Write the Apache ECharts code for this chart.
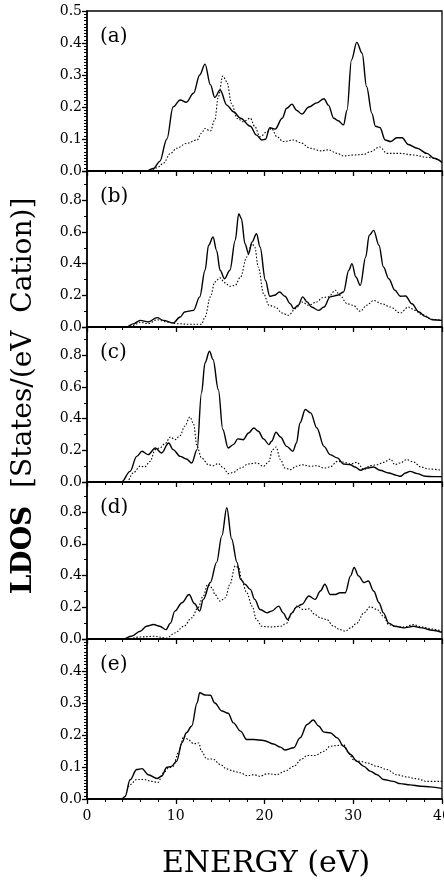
<!DOCTYPE html>
<html>
<head>
<meta charset="utf-8">
<script src="https://cdn.jsdelivr.net/npm/echarts@6/dist/echarts.min.js"></script>
<style>
html,body{margin:0;padding:0;background:#fff;overflow:hidden;}
#chart{width:444px;height:881px;}
</style>
</head>
<body>
<div id="chart"></div>
<script>
// ---- data: [energy (eV), LDOS] ----
const panelLabels = ['(a)', '(b)', '(c)', '(d)', '(e)'];
const xTicks = [0, 10, 20, 30, 40];

const aSolid = [[0,0],[6.7,0],[7.5,0.008],[8.2,0.03],[9.0,0.1],[9.7,0.2],[10.5,0.222],[11.2,0.215],[12,0.243],[12.7,0.3],[13.3,0.334],[13.9,0.27],[14.4,0.23],[15,0.253],[15.75,0.206],[16.5,0.185],[17.3,0.165],[18.4,0.14],[19.1,0.112],[19.7,0.097],[20.1,0.099],[20.6,0.135],[21.2,0.131],[22,0.165],[22.5,0.196],[23.1,0.209],[23.6,0.19],[24.2,0.178],[25,0.2],[25.9,0.213],[26.7,0.226],[27.2,0.206],[27.8,0.165],[28.3,0.157],[28.9,0.144],[29.3,0.19],[29.8,0.347],[30.4,0.402],[31,0.368],[31.5,0.264],[32.1,0.18],[32.5,0.14],[33,0.136],[33.6,0.097],[34.2,0.092],[34.9,0.104],[35.5,0.104],[36.2,0.083],[37.2,0.071],[38.3,0.055],[39.1,0.04],[40,0.027]];
const aDotted = [[0,0],[7.2,0],[7.9,0.01],[8.6,0.024],[9.4,0.055],[10.1,0.071],[11.2,0.086],[12.4,0.097],[12.9,0.118],[13.3,0.133],[13.9,0.125],[14.4,0.16],[14.8,0.232],[15.3,0.297],[15.75,0.279],[16.3,0.21],[16.9,0.165],[17.6,0.154],[18.4,0.165],[18.9,0.139],[19.5,0.107],[20.3,0.123],[20.8,0.133],[21.4,0.107],[22.1,0.092],[23.3,0.097],[24,0.089],[25.2,0.071],[26.3,0.063],[27.2,0.066],[28.2,0.055],[28.9,0.047],[30,0.05],[31.2,0.052],[31.9,0.06],[33,0.075],[33.8,0.055],[35.3,0.055],[36.8,0.05],[38.3,0.043],[40,0.031]];

const bSolid = [[0,0],[4.5,0],[5.2,0.02],[6,0.042],[6.9,0.032],[7.9,0.059],[8.6,0.042],[9.7,0.025],[10.5,0.063],[11,0.095],[12,0.105],[12.7,0.19],[13.3,0.358],[13.7,0.516],[14.2,0.568],[14.6,0.484],[15,0.358],[15.5,0.305],[16.1,0.358],[16.7,0.547],[17.1,0.716],[17.4,0.684],[17.8,0.526],[18.2,0.463],[18.6,0.537],[19.1,0.589],[19.5,0.505],[20.1,0.295],[20.6,0.194],[21.1,0.2],[21.7,0.221],[22.3,0.194],[22.9,0.147],[23.3,0.116],[23.8,0.137],[24.3,0.19],[24.8,0.158],[25.3,0.126],[26.1,0.105],[26.7,0.126],[27.4,0.19],[28.2,0.2],[28.9,0.221],[29.5,0.358],[29.85,0.4],[30.3,0.316],[30.8,0.263],[31.4,0.442],[31.8,0.579],[32.3,0.61],[32.9,0.516],[33.4,0.379],[34,0.305],[34.7,0.232],[35.3,0.194],[35.9,0.196],[36.6,0.147],[37.4,0.095],[38.1,0.067],[38.9,0.046],[40,0.042]];
const bDotted = [[0,0],[4.6,0],[5.2,0.01],[6,0.03],[6.9,0.021],[7.9,0.046],[9,0.032],[10.1,0.021],[11.6,0.017],[12.9,0.017],[13.3,0.063],[13.9,0.19],[14.4,0.284],[15,0.31],[15.5,0.28],[16.1,0.257],[16.7,0.263],[17.3,0.316],[18,0.442],[18.6,0.526],[18.9,0.505],[19.3,0.379],[19.9,0.21],[20.5,0.137],[21.2,0.126],[22,0.088],[22.7,0.074],[23.5,0.116],[24.2,0.158],[25,0.137],[25.9,0.158],[26.5,0.185],[27.2,0.19],[28,0.232],[28.5,0.2],[29.3,0.147],[30,0.137],[30.8,0.099],[31.5,0.137],[32.3,0.168],[33.2,0.147],[34.2,0.126],[35.3,0.088],[36.2,0.126],[37,0.105],[37.7,0.08],[38.9,0.048],[40,0.042]];

const cSolid = [[0,0],[3.9,0],[4.85,0.067],[5.6,0.162],[6.2,0.194],[6.9,0.173],[7.7,0.215],[8.4,0.183],[9.2,0.246],[9.7,0.204],[10.5,0.162],[11.2,0.145],[11.8,0.12],[12.4,0.204],[12.9,0.562],[13.3,0.752],[13.8,0.825],[14.2,0.773],[14.8,0.583],[15.3,0.331],[15.9,0.215],[16.5,0.236],[17,0.272],[17.6,0.267],[18.2,0.309],[18.8,0.341],[19.3,0.32],[19.9,0.272],[20.5,0.236],[20.8,0.257],[21.3,0.314],[21.8,0.284],[22.5,0.225],[23.2,0.194],[23.6,0.246],[24,0.373],[24.6,0.457],[25.2,0.436],[25.9,0.341],[26.7,0.225],[27.4,0.173],[28.2,0.152],[28.9,0.114],[29.7,0.109],[30.2,0.095],[30.8,0.074],[31.5,0.088],[32.3,0.095],[33,0.074],[34,0.057],[34.9,0.042],[35.3,0.036],[35.9,0.057],[36.4,0.067],[37.2,0.053],[38.1,0.036],[39.1,0.034],[40,0.034]];
const cDotted = [[0,0],[4.5,0],[5.2,0.057],[6,0.1],[6.5,0.095],[7.1,0.13],[7.7,0.204],[8.2,0.215],[8.8,0.242],[9.4,0.284],[9.9,0.267],[10.5,0.293],[11,0.352],[11.6,0.41],[12,0.368],[12.4,0.225],[12.9,0.152],[13.7,0.109],[14.2,0.103],[14.8,0.116],[15.4,0.088],[15.9,0.053],[16.5,0.061],[17.3,0.088],[18.2,0.114],[19.1,0.12],[19.9,0.099],[20.5,0.13],[20.9,0.204],[21.3,0.221],[21.8,0.141],[22.3,0.088],[22.9,0.078],[23.6,0.099],[24.2,0.109],[25.2,0.099],[25.9,0.103],[26.7,0.088],[27.4,0.095],[28.2,0.13],[28.9,0.126],[29.7,0.114],[30.4,0.124],[31.2,0.078],[31.9,0.103],[32.7,0.109],[33.4,0.124],[34.2,0.145],[34.7,0.109],[35.3,0.12],[36,0.141],[36.8,0.126],[37.6,0.095],[38.5,0.082],[40,0.074]];

const dSolid = [[0,0],[4.1,0],[5,0.017],[6,0.049],[6.7,0.08],[7.5,0.091],[8.2,0.08],[8.9,0.059],[9.4,0.1],[9.9,0.176],[10.7,0.229],[11.5,0.281],[12.1,0.224],[12.7,0.176],[13.1,0.25],[13.9,0.356],[14.6,0.483],[15.2,0.652],[15.75,0.828],[16.3,0.631],[16.9,0.483],[17.3,0.377],[17.8,0.345],[18.4,0.313],[18.9,0.25],[19.5,0.186],[20.3,0.165],[20.8,0.176],[21.6,0.207],[22.1,0.165],[22.6,0.123],[23.1,0.165],[23.6,0.201],[24.2,0.218],[25,0.271],[25.7,0.25],[26.3,0.303],[26.8,0.345],[27.4,0.281],[28,0.281],[28.5,0.292],[29.1,0.292],[29.7,0.398],[30.1,0.451],[30.6,0.398],[31.2,0.356],[31.7,0.366],[32.3,0.303],[32.9,0.229],[33.4,0.165],[34,0.1],[34.7,0.08],[35.7,0.07],[36.8,0.08],[37.7,0.07],[38.9,0.055],[40,0.042]];
const dDotted = [[0,0],[4.5,0],[6,0.013],[7.5,0.017],[9,0.006],[9.9,0.038],[10.9,0.08],[11.8,0.133],[12.5,0.197],[13.1,0.271],[13.6,0.345],[14.1,0.324],[14.4,0.281],[15,0.239],[15.6,0.26],[16.1,0.345],[16.7,0.461],[17.1,0.451],[17.4,0.377],[18,0.292],[18.6,0.207],[19.1,0.123],[19.7,0.08],[20.6,0.076],[21.8,0.08],[22.5,0.1],[23.1,0.165],[23.6,0.207],[24.4,0.186],[25,0.19],[25.7,0.154],[26.3,0.133],[27,0.123],[27.8,0.08],[28.5,0.059],[29.1,0.049],[29.7,0.07],[30.4,0.1],[31.2,0.165],[31.9,0.203],[32.7,0.186],[33.4,0.144],[34,0.091],[34.7,0.08],[35.7,0.076],[36.8,0.091],[37.7,0.076],[38.9,0.063],[40,0.049]];

const eSolid = [[0,0],[3.9,0],[4.3,0.008],[4.85,0.06],[5.6,0.092],[6.2,0.095],[6.9,0.076],[7.9,0.064],[8.4,0.071],[9,0.099],[9.5,0.102],[10.1,0.118],[10.7,0.176],[11.2,0.207],[11.8,0.228],[12.4,0.3],[12.7,0.332],[13.3,0.325],[13.9,0.324],[14.4,0.3],[15.2,0.275],[15.9,0.268],[16.5,0.238],[17.3,0.212],[18,0.186],[18.8,0.186],[19.9,0.183],[21,0.172],[21.8,0.162],[22.3,0.153],[23.3,0.16],[24,0.191],[24.8,0.233],[25.5,0.247],[26.1,0.228],[26.7,0.209],[27.4,0.207],[28.2,0.191],[28.9,0.165],[29.7,0.139],[30.4,0.118],[31.2,0.102],[31.9,0.087],[32.7,0.076],[33.4,0.061],[34.5,0.055],[35.3,0.048],[36.4,0.044],[37.6,0.04],[38.7,0.038],[40,0.033]];
const eDotted = [[0,0],[4.1,0],[4.85,0.045],[5.6,0.061],[6.4,0.061],[7.3,0.055],[8,0.052],[8.6,0.082],[9.2,0.097],[9.7,0.102],[10.3,0.144],[10.9,0.196],[11.4,0.186],[12,0.173],[12.6,0.175],[12.9,0.149],[13.5,0.125],[14.2,0.125],[15,0.108],[15.75,0.094],[16.5,0.087],[17.3,0.082],[18,0.073],[18.8,0.076],[19.5,0.071],[20.3,0.079],[21.4,0.076],[22.3,0.087],[23.3,0.102],[24.2,0.125],[24.8,0.136],[25.7,0.136],[26.7,0.149],[27.4,0.165],[28.2,0.167],[28.9,0.17],[29.5,0.144],[30,0.123],[30.8,0.118],[31.5,0.113],[32.7,0.102],[33.8,0.092],[34.9,0.076],[36,0.069],[37.2,0.063],[38.3,0.055],[40,0.055]];

const solidSets = [aSolid, bSolid, cSolid, dSolid, eSolid];
const dottedSets = [aDotted, bDotted, cDotted, dDotted, eDotted];
const yMax = [0.5, 0.985, 0.978, 0.99, 0.5];
const yInterval = [0.1, 0.2, 0.2, 0.2, 0.1];

// ---- layout ----
const gridTops = [11, 171, 327, 482, 639];
const gridHeights = [160, 156, 155, 157, 160];
const minorSplits = [10, 2, 2, 2, 10];
const FONT = '"DejaVu Serif", "Liberation Serif", serif';

const chart = echarts.init(document.getElementById('chart'), null, {renderer: 'canvas'});
const grids = [], xAxes = [], yAxes = [], series = [], graphics = [];
for (let i = 0; i < 5; i++) {
  grids.push({left: 87, width: 355, top: gridTops[i], height: gridHeights[i],
    containLabel: false, outerBoundsMode: 'none',
    show: true, borderColor: '#000', borderWidth: 1.3, backgroundColor: 'transparent'});
  xAxes.push({
    type: 'value', gridIndex: i, min: 0, max: 40, interval: 10,
    axisLine: {show: true, onZero: false, lineStyle: {color: '#000', width: 1.5}},
    axisTick: {show: true, inside: false, length: 5, lineStyle: {color: '#000', width: 1.3}},
    minorTick: {show: true, splitNumber: 5, length: 3, lineStyle: {color: '#000', width: 1}},
    splitLine: {show: false}, minorSplitLine: {show: false},
    axisLabel: {show: i === 4, color: '#000', fontFamily: FONT, fontSize: 14, margin: 10,
      formatter: v => xTicks.includes(v) ? String(v) : ''}
  });
  yAxes.push({
    type: 'value', gridIndex: i, min: 0, max: yMax[i], interval: yInterval[i],
    axisLine: {show: true, onZero: false, lineStyle: {color: '#000', width: 1.5}},
    axisTick: {show: true, inside: false, length: 5, lineStyle: {color: '#000', width: 1.3}},
    minorTick: {show: true, splitNumber: minorSplits[i], length: 3, lineStyle: {color: '#000', width: 1}},
    splitLine: {show: false}, minorSplitLine: {show: false},
    axisLabel: {show: true, color: '#000', fontFamily: FONT, fontSize: 14, margin: 5,
      showMaxLabel: i === 0, showMinLabel: true,
      formatter: v => {
        const r = Math.round(v / yInterval[i]) * yInterval[i];
        if (Math.abs(r - v) > 1e-6) return '';
        return v.toFixed(1);
      }}
  });
  series.push({
    type: 'line', xAxisIndex: i, yAxisIndex: i, data: solidSets[i],
    showSymbol: false, smooth: 0.35, smoothMonotone: 'x',
    lineStyle: {color: '#000', width: 1.4, type: 'solid'}, z: 3
  });
  series.push({
    type: 'line', xAxisIndex: i, yAxisIndex: i, data: dottedSets[i],
    showSymbol: false, smooth: 0.35, smoothMonotone: 'x',
    lineStyle: {color: '#000', width: 1.1, type: [1.5, 1.8]}, z: 2
  });
  graphics.push({
    type: 'text', left: 100, top: gridTops[i] + 16,
    style: {text: panelLabels[i], font: '20px ' + FONT, fill: '#000'}
  });
}
graphics.push({
  type: 'text', x: 24, y: 396, rotation: Math.PI / 2,
  style: {
    text: '{b|LDOS}  [States/(eV  Cation)]',
    font: '28px ' + FONT, fill: '#000', align: 'center', verticalAlign: 'middle',
    rich: {b: {fontWeight: 'bold', fontSize: 28, fontFamily: FONT}}
  }
});
graphics.push({
  type: 'text', x: 266, y: 864,
  style: {text: 'ENERGY (eV)', font: '30px ' + FONT, fill: '#000', align: 'center', verticalAlign: 'middle'}
});

chart.setOption({
  animation: false,
  backgroundColor: '#fff',
  grid: grids, xAxis: xAxes, yAxis: yAxes, series: series, graphic: graphics
});
</script>
</body>
</html>
